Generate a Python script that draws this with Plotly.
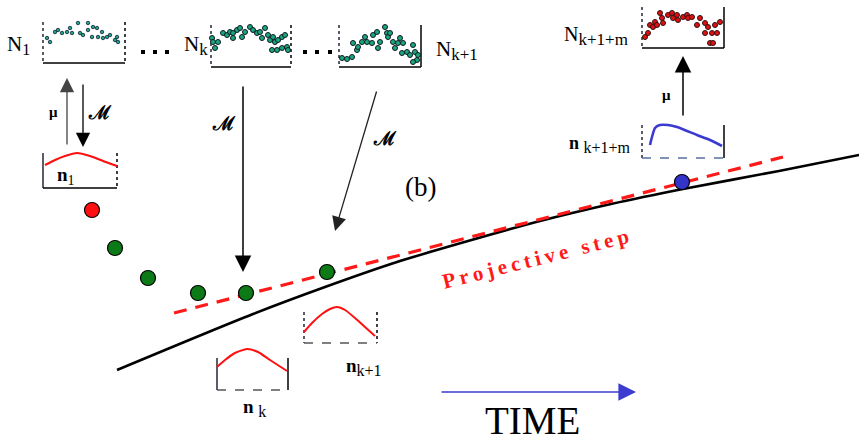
import plotly.graph_objects as go

# ---------------- data (pixel-like coordinates) ----------------
curve_x = [117, 253, 325, 397, 468, 540, 611, 683, 779, 859]
curve_y = [370, 314, 287, 262, 241, 221, 204, 189, 171, 155]

proj_x = [174, 783]
proj_y = [313, 157]

dot_x = [92, 115, 148, 198, 246, 327, 682]
dot_y = [210, 248, 278, 293, 293, 272, 182]
dot_kind = ["red", "green", "green", "green", "green", "green", "blue"]

# particle clouds inside the N boxes
N1_x = [47, 50, 55, 58, 62, 67, 70, 72, 78, 80, 83, 88, 88, 92, 93, 97, 98, 102, 103, 107, 110, 115, 117, 118]
N1_y = [38, 42, 32, 30, 33, 32, 28, 33, 23, 33, 35, 23, 30, 37, 27, 28, 37, 32, 38, 37, 35, 40, 37, 42]
Nk_x = [212, 213, 215, 218, 223, 227, 230, 233, 233, 237, 240, 242, 245, 250, 253, 257, 260, 262, 265, 268,
        270, 273, 275, 278, 282, 285, 272, 277, 282, 287, 288]
Nk_y = [38, 42, 48, 42, 33, 35, 32, 33, 38, 30, 28, 37, 32, 27, 30, 33, 32, 38, 28, 35,
        40, 37, 42, 40, 37, 35, 50, 50, 48, 47, 50]
Nk1_x = [342, 347, 352, 353, 357, 358, 362, 365, 367, 372, 373, 377, 378, 380, 385, 387, 388, 390, 393, 395,
         398, 400, 402, 403, 407, 410, 413, 415, 417, 418, 413]
Nk1_y = [58, 59, 57, 43, 50, 47, 42, 37, 42, 43, 35, 32, 48, 42, 27, 33, 37, 33, 42, 48,
         43, 38, 53, 43, 52, 55, 45, 52, 60, 55, 62]
Nkm_x = [645, 648, 650, 653, 655, 657, 660, 662, 663, 668, 672, 673, 677, 678, 683, 687, 688, 692, 697, 700,
         705, 705, 708, 710, 712, 713, 715, 717, 720]
Nkm_y = [37, 33, 25, 27, 22, 25, 13, 18, 23, 15, 13, 18, 15, 20, 17, 15, 18, 17, 25, 18,
         23, 33, 27, 43, 33, 43, 25, 33, 22]

# density profiles inside the n boxes
n1_x = [45, 55, 65, 77, 90, 103, 117]
n1_y = [165, 160, 156, 153, 156, 161, 166]
nk_x = [217, 225, 235, 247, 258, 270, 287]
nk_y = [367, 360, 353, 349, 352, 360, 371]
nk1_x = [304, 312, 322, 330, 337, 345, 355, 365, 375]
nk1_y = [332, 323, 314, 309, 307, 310, 318, 327, 336]
nkm_x = [650, 652, 655, 660, 668, 677, 697, 710, 722]
nkm_y = [145, 137, 128, 125, 125, 127, 135, 140, 146]

# boxes: x-left, x-right, y-top, y-bottom
box_names = ["N1", "Nk", "Nk1", "Nkm", "n1", "nk", "nk1", "nkm"]
box_x0 = [43, 211, 339, 642, 43, 217, 304, 642]
box_x1 = [125, 291, 421, 724, 117, 288, 377, 724]
box_y0 = [22, 25, 25, 7, 153, 358, 312, 125]
box_y1 = [63, 67, 67, 48, 188, 390, 343, 158]

ellipsis_x = [143, 155, 167, 305, 317, 330]
ellipsis_y = [52, 52, 52, 52, 52, 52]

# ---------------- figure ----------------
fig = go.Figure()

def line(xs, ys, color, width, dash="solid", smoothing=0.6):
    fig.add_trace(go.Scatter(x=xs, y=ys, mode="lines", hoverinfo="skip",
                             line=dict(color=color, width=width, dash=dash, shape="spline", smoothing=smoothing)))

# boxes
side_style = {
    "N1": ("dot", "dot"), "Nk": ("dot", "dot"), "Nk1": ("dot", "solid"), "Nkm": ("dot", "solid"),
    "n1": ("solid", "dot"), "nk": ("solid", "solid"), "nk1": ("dot", "dot"), "nkm": ("dot", "solid"),
}
bottom_style = {"N1": ("black", "solid"), "Nk": ("black", "solid"), "Nk1": ("black", "solid"),
                "Nkm": ("black", "solid"), "n1": ("black", "solid"), "nk": ("#555555", "dash"),
                "nk1": ("#555555", "dash"), "nkm": ("#5a6fa0", "dash")}
for name, x0, x1, y0, y1 in zip(box_names, box_x0, box_x1, box_y0, box_y1):
    ls, rs = side_style[name]
    fig.add_trace(go.Scatter(x=[x0, x0], y=[y0, y1], mode="lines", hoverinfo="skip",
                             line=dict(color="#333344", width=1.6, dash=ls)))
    fig.add_trace(go.Scatter(x=[x1, x1], y=[y0, y1], mode="lines", hoverinfo="skip",
                             line=dict(color="#111111", width=1.6, dash=rs)))
    bc, bd = bottom_style[name]
    fig.add_trace(go.Scatter(x=[x0, x1], y=[y1, y1], mode="lines", hoverinfo="skip",
                             line=dict(color=bc, width=1.6, dash=bd)))

# particles
fig.add_trace(go.Scatter(x=N1_x, y=N1_y, mode="markers", hoverinfo="skip",
                         marker=dict(size=3.5, color="#1fa57c", line=dict(color="#102040", width=0.8))))
for xs, ys in [(Nk_x, Nk_y), (Nk1_x, Nk1_y)]:
    fig.add_trace(go.Scatter(x=xs, y=ys, mode="markers", hoverinfo="skip",
                             marker=dict(size=5, color="#19a87a", line=dict(color="#101828", width=1))))
fig.add_trace(go.Scatter(x=Nkm_x, y=Nkm_y, mode="markers", hoverinfo="skip",
                         marker=dict(size=5, color="#e01010", line=dict(color="#301010", width=1))))

# profiles
line(n1_x, n1_y, "#ff1010", 2.2)
line(nk_x, nk_y, "#ff1010", 2.0)
line(nk1_x, nk1_y, "#ff1010", 2.0)
line(nkm_x, nkm_y, "#3a3ad0", 2.6)

# main curve and projective line
line(curve_x, curve_y, "black", 2.6, smoothing=0.8)
fig.add_trace(go.Scatter(x=proj_x, y=proj_y, mode="lines", hoverinfo="skip",
                         line=dict(color="#ff1a1a", width=3.2, dash="13px,9px")))

# ellipsis dots
fig.add_trace(go.Scatter(x=ellipsis_x, y=ellipsis_y, mode="markers", hoverinfo="skip",
                         marker=dict(symbol="square", size=4, color="black")))

# state dots
color_map = {"red": "#ff1010", "green": "#0c7a16", "blue": "#3434c8"}
fig.add_trace(go.Scatter(x=dot_x, y=dot_y, mode="markers", hoverinfo="skip",
                         marker=dict(size=15, color=[color_map[k] for k in dot_kind],
                                     line=dict(color="black", width=1.2))))

# arrows (head at x,y ; tail at ax,ay)
arrows = [
    (67, 78, 67, 146, "#444444", 1.3),
    (83, 147, 83, 83, "black", 1.3),
    (243, 272, 243, 85, "black", 1.5),
    (335, 231, 377, 90, "#222222", 1.3),
    (683, 56, 683, 117, "black", 1.5),
    (636, 392, 440, 392, "#3b3bd0", 1.6),
]
for hx, hy, tx, ty, col, w in arrows:
    fig.add_annotation(x=hx, y=hy, ax=tx, ay=ty, xref="x", yref="y", axref="x", ayref="y",
                       text="", showarrow=True, arrowhead=2, arrowsize=2.2, arrowwidth=w,
                       arrowcolor=col, standoff=0, startstandoff=0)

SERIF = "Liberation Serif, Times New Roman, serif"

def label(x, y, text, size, xanchor="center", color="black", angle=0, yanchor="middle"):
    fig.add_annotation(x=x, y=y, xref="x", yref="y", text=text, showarrow=False,
                       xanchor=xanchor, yanchor=yanchor, textangle=angle,
                       font=dict(family=SERIF, size=size, color=color))

def sub(t, px):
    return "<sub><span style='font-size:%dpx'>%s</span></sub>" % (px, t)

label(32, 45, "N" + sub("1", 16), 21, xanchor="right")
label(210, 45, "N" + sub("k", 17), 21, xanchor="right")
label(434, 50, "N" + sub("k+1", 17), 21, xanchor="left")
label(630, 36, "N" + sub("k+1+m", 17), 20, xanchor="right")

label(53, 112, "<b>μ</b>", 15)
label(666, 95, "<b>μ</b>", 15)
label(100, 112, "<b>ℳ</b>", 19)
label(224, 123, "<b>ℳ</b>", 19)
label(385, 138, "<b>ℳ</b>", 19)

label(66, 176, "<b>n</b>" + sub("1", 14), 19)
label(254, 408, "<b>n</b> " + sub("k", 16), 19)
label(364, 367, "<b>n</b>" + sub("k+1", 16), 19)
label(633, 144, "<b>n</b> " + sub("k+1+m", 16), 18, xanchor="right")

label(420, 187, "(b)", 27)
label(532, 420, "TIME", 39)

ts = "\u2009"
label(535, 259, "<b>" + ts.join("Projective") + ts + " " + ts + ts.join("step") + "</b>", 21,
      color="#ff1a1a", angle=-14)

fig.update_layout(
    width=859, height=442, margin=dict(l=0, r=0, t=0, b=0),
    paper_bgcolor="white", plot_bgcolor="white", showlegend=False,
    xaxis=dict(range=[0, 859], visible=False, fixedrange=True),
    yaxis=dict(range=[442, 0], visible=False, fixedrange=True),
)

fig.write_html("out.html", config={"displayModeBar": False},
               post_script="document.body.style.margin='0';document.body.style.overflow='hidden';")
